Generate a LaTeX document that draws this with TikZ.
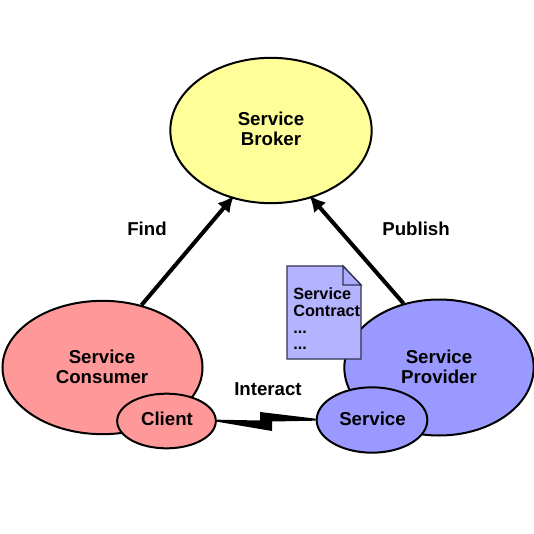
\documentclass[tikz,border=0pt]{standalone}
\usepackage{fontspec}
\setmainfont{Liberation Sans}
\usepackage{tikz}
\usetikzlibrary{shapes.geometric,arrows.meta,positioning}
\definecolor{lightyellow}{RGB}{255,255,153}
\definecolor{lightred}{RGB}{255,153,153}
\definecolor{lightviolet}{RGB}{153,153,255}
\definecolor{paleviolet}{RGB}{179,179,255}
\definecolor{docline}{RGB}{50,50,80}

\begin{document}
\begin{tikzpicture}[x=0.75pt,y=-0.75pt,font=\fontsize{14}{15}\selectfont\bfseries,
  party/.style={draw,ellipse,line width=1.5pt,inner sep=0pt,align=center},
  role/.style={align=center,inner sep=0pt},
  link/.style={line width=3pt,shorten >=-2.5pt,-{Latex[length=12pt,width=12pt]}}
]
  \useasboundingbox (0,0) rectangle (534,534);
  % big ellipses
  \node[party,fill=lightyellow,minimum width=151pt,minimum height=109pt] (broker) at (271,130.5) {};
  \node[party,fill=lightred,minimum width=150pt,minimum height=100pt] (consumer) at (102.5,367.5) {};
  \node[party,fill=lightviolet,minimum width=142pt,minimum height=102pt] (provider) at (439,367.5) {};
  \node[role] (brokertext) at (271,129) {Service\\Broker};
  \node[role] (consumertext) at (102,367) {Service\\Consumer};
  \node[role] (providertext) at (439,367) {Service\\Provider};
  % small ellipses
  \node[party,fill=lightred,minimum width=74pt,minimum height=41pt] (client) at (166.5,421) {};
  \node[party,fill=lightviolet,minimum width=83pt,minimum height=49pt] (service) at (372,420) {};
  \node[role] (clienttext) at (167,419) {Client};
  \node[role] (servicetext) at (372.5,419) {Service};
  % arrows
  \draw[link] (consumer.58.5) -- (broker.240.4);
  \draw[link] (provider.119.7) -- (broker.-59.8);
  \node[role] (find) at (147,229) {Find};
  \node[role] (publish) at (416,229) {Publish};
  % lightning bolt
  \fill[black] ([yshift=1pt]client.east) -- (260,420.5) -- (260,412) -- ([yshift=1pt]service.west) -- ([yshift=-0.5pt]service.west) -- (272,421.5) -- (272,431) -- ([yshift=-0.5pt]client.east) -- cycle;
  \node[role] (interact) at (268,389) {Interact};
  % contract sheet
  \draw[docline,line width=1pt,fill=paleviolet] (287,266) -- (343,266) -- (361,285) -- (361,359) -- (287,359) -- cycle;
  \draw[docline,line width=1pt,fill=paleviolet!70!lightviolet] (343,266) -- (343,285) -- (361,285) -- cycle;
  \node[role,align=left,anchor=north west,font=\fontsize{12.2}{12.6}\selectfont\bfseries] (contract) at (293,287.5) {Service\\Contract\\...\\...};
\end{tikzpicture}
\end{document}
